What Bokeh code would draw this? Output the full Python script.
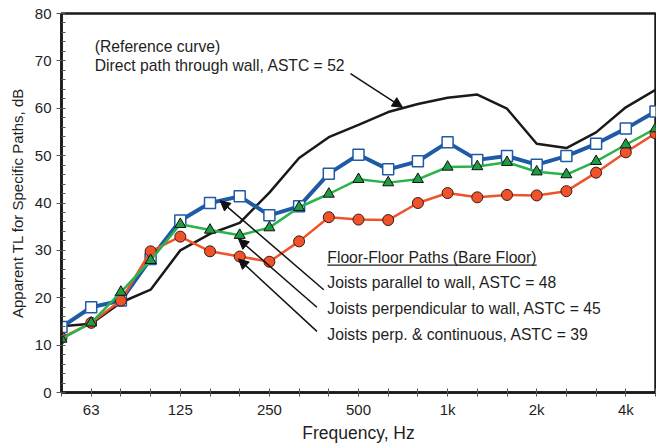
from bokeh.plotting import figure
from bokeh.models import (Range1d, FixedTicker, SingleIntervalTicker, Arrow, NormalHead,
                          Label, ColumnDataSource)
from bokeh.embed import file_html
from bokeh.resources import INLINE

# 1/3-octave band centre frequencies (Hz)
bands = ["50", "63", "80", "100", "125", "160", "200", "250", "315", "400", "500",
         "630", "800", "1k", "1.25k", "1.6k", "2k", "2.5k", "3.15k", "4k", "5k"]
shown_labels = ["63", "125", "250", "500", "1k", "2k", "4k"]

direct_wall = [14.0, 14.5, 19.0, 21.7, 30.0, 33.5, 35.8, 42.2, 49.5, 53.9, 56.5,
               59.2, 60.9, 62.2, 62.9, 59.9, 52.5, 51.6, 54.9, 60.2, 63.9]
joists_parallel = [13.8, 18.0, 19.4, 28.2, 36.3, 40.0, 41.4, 37.4, 39.3, 46.2, 50.2,
                   47.1, 48.8, 52.8, 49.1, 49.9, 48.1, 49.9, 52.5, 55.7, 59.3]
joists_perp = [11.3, 14.7, 21.2, 27.9, 35.5, 34.3, 33.2, 34.8, 39.1, 41.9, 45.0,
               44.3, 45.0, 47.6, 47.7, 48.6, 46.6, 46.0, 48.8, 52.3, 55.7]
joists_perp_cont = [11.5, 14.7, 19.4, 29.8, 32.9, 29.8, 28.7, 27.6, 31.9, 37.0, 36.5,
                    36.4, 40.0, 42.1, 41.2, 41.7, 41.6, 42.5, 46.4, 50.7, 54.7]

idx = list(range(len(bands)))
src = ColumnDataSource(dict(x=idx, direct=direct_wall, par=joists_parallel,
                            perp=joists_perp, cont=joists_perp_cont))

FONT = "Liberation Sans"
TXT = "#1e1e1e"

p = figure(frame_width=594, frame_height=379, output_backend="svg", toolbar_location=None,
           x_range=Range1d(0, 20), y_range=Range1d(0, 80),
           min_border_left=61, min_border_right=1, min_border_top=13, min_border_bottom=44)
p.background_fill_color = "white"
p.border_fill_color = "white"
p.xgrid.visible = False
p.ygrid.visible = False
p.outline_line_color = "#1a1a1a"
p.outline_line_width = 2.5

# axes
xa = p.xaxis[0]
xa.ticker = FixedTicker(ticks=idx)
xa.major_label_overrides = {i: (b if b in shown_labels else "") for i, b in zip(idx, bands)}
xa.major_tick_in = 4
xa.major_tick_out = 4
xa.minor_tick_line_color = None
xa.axis_line_width = 2.5
xa.axis_line_color = "#1a1a1a"
xa.major_tick_line_color = "#555555"
xa.major_tick_line_width = 1
xa.axis_label = "Frequency, Hz"
xa.axis_label_text_font = FONT
xa.axis_label_text_font_size = "17.5px"
xa.axis_label_text_font_style = "normal"
xa.axis_label_text_color = TXT
xa.axis_label_standoff = 2
xa.major_label_text_font = FONT
xa.major_label_text_font_size = "15px"
xa.major_label_text_color = TXT
xa.major_label_standoff = 4

ya = p.yaxis[0]
ya.ticker = SingleIntervalTicker(interval=10, num_minor_ticks=5)
ya.major_tick_in = 0
ya.major_tick_out = 5
ya.minor_tick_in = 4
ya.minor_tick_out = 0
ya.major_tick_line_color = "#555555"
ya.minor_tick_line_color = "#555555"
ya.axis_line_width = 2.5
ya.axis_line_color = "#1a1a1a"
ya.axis_label = "Apparent TL for Specific Paths, dB"
ya.axis_label_text_font = FONT
ya.axis_label_text_font_size = "15px"
ya.axis_label_text_font_style = "normal"
ya.axis_label_text_color = TXT
ya.axis_label_standoff = 6
ya.major_label_text_font = FONT
ya.major_label_text_font_size = "15px"
ya.major_label_text_color = TXT
ya.major_label_standoff = 5

# series
p.line("x", "direct", source=src, line_color="#1a1a1a", line_width=2.5)
p.line("x", "par", source=src, line_color="#1f5aa6", line_width=4)
p.scatter("x", "par", source=src, marker="square", size=11, fill_color="white",
          line_color="#1f5aa6", line_width=1.5)
p.line("x", "cont", source=src, line_color="#f0532b", line_width=2.5)
p.scatter("x", "cont", source=src, marker="circle", size=11, fill_color="#f0532b",
          line_color="#3a1a10", line_width=1)
p.line("x", "perp", source=src, line_color="#2bb34b", line_width=2.5)
p.scatter("x", "perp", source=src, marker="triangle", size=11, fill_color="#1e9e44",
          line_color="#111111", line_width=1)

# annotations
def lab(x, y, t):
    p.add_layout(Label(x=x, y=y, text=t, text_font=FONT, text_font_size="15.7px",
                       text_color=TXT, text_baseline="middle", text_align="left"))

lab(1.12, 73.0, "(Reference curve)")
lab(1.12, 69.0, "Direct path through wall, ASTC = 52")
lab(8.95, 28.6, "Floor-Floor Paths (Bare Floor)")
lab(8.95, 23.3, "Joists parallel to wall, ASTC = 48")
lab(8.95, 17.7, "Joists perpendicular to wall, ASTC = 45")
lab(8.95, 12.2, "Joists perp. & continuous, ASTC = 39")
p.segment(x0=[8.95], y0=[26.9], x1=[16.0], y1=[26.9], line_color=TXT, line_width=1.2)

def arr(xs, ys, xe, ye):
    p.add_layout(Arrow(end=NormalHead(size=10, fill_color="#111111", line_color="#111111"),
                       x_start=xs, y_start=ys, x_end=xe, y_end=ye,
                       line_color="#111111", line_width=1.5))

arr(9.73, 67.3, 11.48, 60.2)
arr(8.83, 21.7, 5.34, 40.5)
arr(8.6, 18.0, 5.96, 32.4)
arr(8.6, 12.9, 5.96, 28.2)

open("out.html", "w").write(file_html(p, INLINE))
